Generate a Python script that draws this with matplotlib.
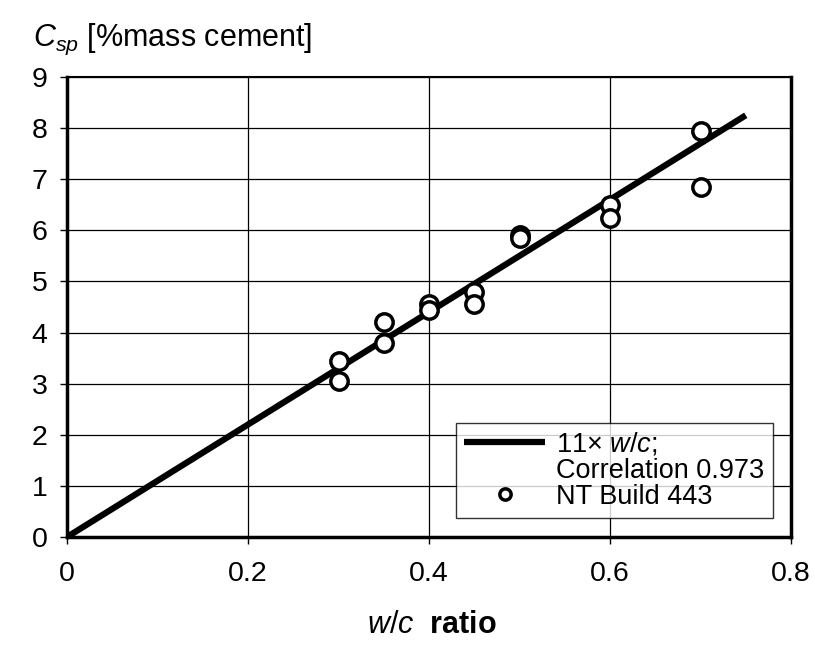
import matplotlib.pyplot as plt
from matplotlib.lines import Line2D
import numpy as np

plt.rcParams['font.family'] = ['Liberation Sans', 'DejaVu Sans']
plt.rcParams['mathtext.fontset'] = 'custom'
plt.rcParams['mathtext.rm'] = 'Liberation Sans'
plt.rcParams['mathtext.it'] = 'Liberation Sans:italic'
plt.rcParams['mathtext.bf'] = 'Liberation Sans:bold'

# measured points (NT Build 443)
wc = [0.30, 0.30, 0.35, 0.35, 0.40, 0.40, 0.45, 0.45, 0.50, 0.50, 0.60, 0.60, 0.70, 0.70]
csp = [3.45, 3.05, 4.20, 3.80, 4.55, 4.45, 4.80, 4.55, 5.90, 5.85, 6.50, 6.25, 7.95, 6.85]

# fitted line 11 x w/c
fit_slope = 11.0
fit_x = [0.0, 0.75]

x_ticks = [0, 0.2, 0.4, 0.6, 0.8]
x_labels = ["0", "0.2", "0.4", "0.6", "0.8"]
y_ticks = list(range(10))

fig = plt.figure(figsize=(8.15, 6.49), dpi=100)
ax = fig.add_axes([0.0822, 0.1726, 0.8884, 0.7088])

fx = np.array(fit_x)
fit_line, = ax.plot(fx, fit_slope * fx, color='black', lw=4.5, solid_capstyle='butt', zorder=3)
pts, = ax.plot(wc, csp, linestyle='none', marker='o', ms=12.5, mfc='white', mec='black',
               mew=2.5, zorder=4)

ax.set_xlim(0, 0.8)
ax.set_ylim(0, 9)
ax.set_xticks(x_ticks)
ax.set_xticklabels(x_labels)
ax.set_yticks(y_ticks)
ax.grid(True, color='black', lw=0.9)
ax.tick_params(labelsize=20.5, length=5, width=1, direction='out')
ax.tick_params(axis='x', pad=12)
ax.tick_params(axis='y', pad=9)

for side in ['left', 'bottom', 'right']:
    ax.spines[side].set_linewidth(2.5)
ax.spines['top'].set_linewidth(1.5)

fig.text(0.04, 0.93, "$\\it{C}_{\\it{sp}}$ [%mass cement]", fontsize=22)
fig.text(0.53, 0.025, "$\\it{w/c}$  $\\bf{ratio}$", fontsize=22, ha='center')

blank = Line2D([], [], color='none')
leg = ax.legend([fit_line, blank, pts],
                ["11$\\times$ $\\it{w/c}$;", "Correlation 0.973", "NT Build 443"],
                loc='lower right', bbox_to_anchor=(0.982, 0.03), fontsize=19.5,
                frameon=True, fancybox=False, handlelength=3.0, borderpad=0.3,
                labelspacing=0.0, handletextpad=0.4, markerscale=0.65,
                borderaxespad=0.2)
leg.get_frame().set_edgecolor('black')
leg.get_frame().set_linewidth(1)

plt.savefig('out.png', dpi=100)
